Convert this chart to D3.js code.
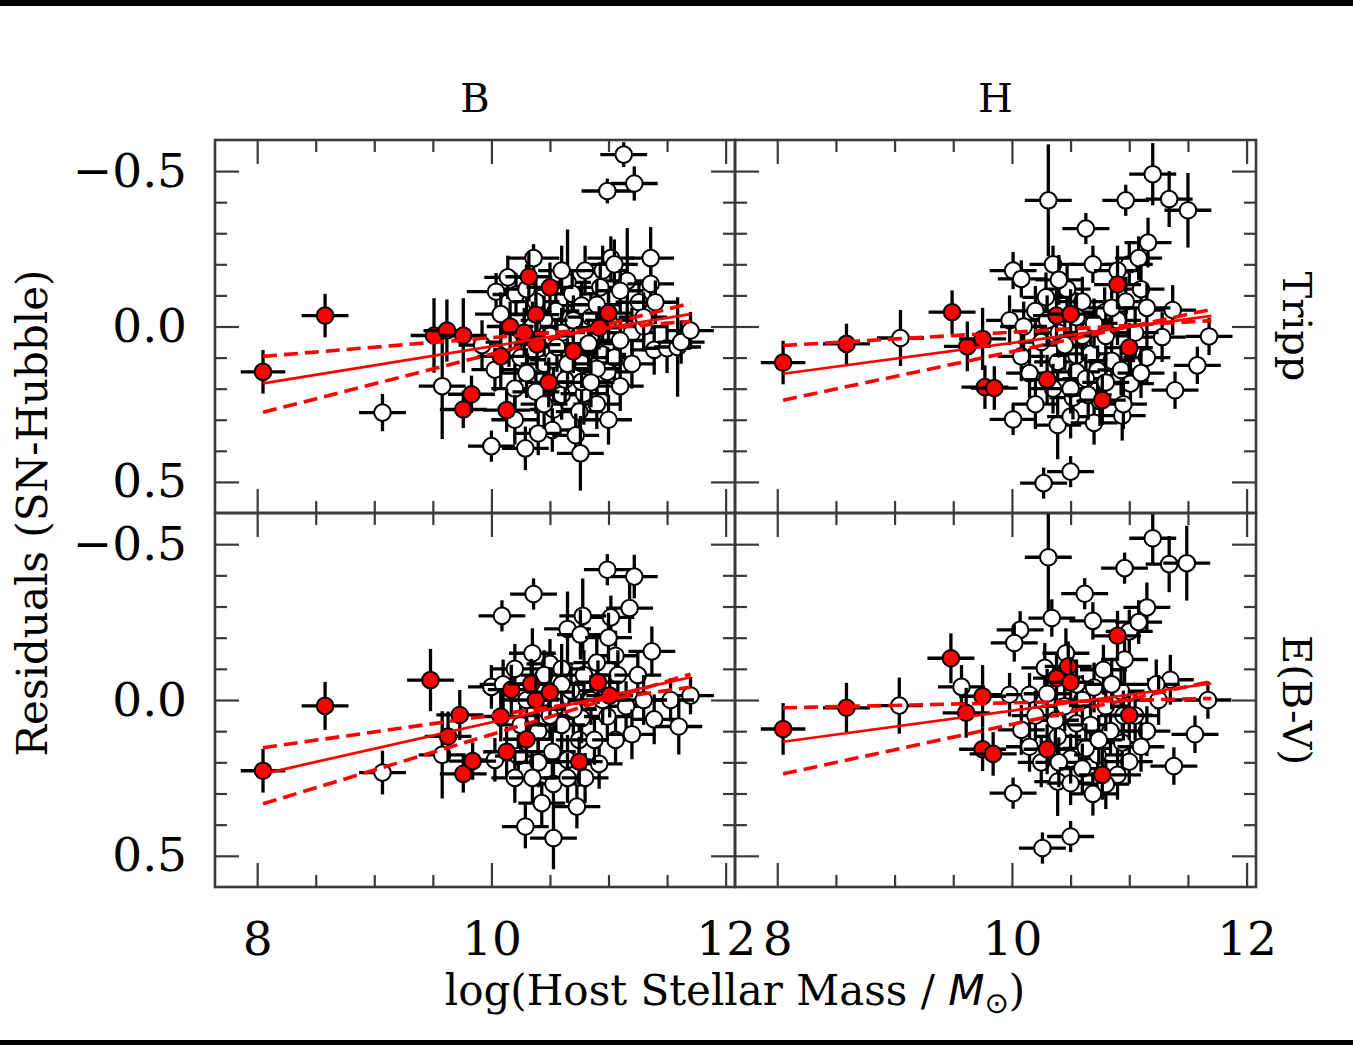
<!DOCTYPE html>
<html>
<head>
<meta charset="utf-8">
<script src="https://cdn.jsdelivr.net/npm/d3@7"></script>
<style>
  body { margin: 0; background: #fff; }
  svg { display: block; }
</style>
</head>
<body>
<svg id="chart" width="1353" height="1045"></svg>
<script>
// ---- Data: host stellar mass (log M/Msun) vs Hubble residual ----
// point rows: [logMass, residual, massErr, residualErr]
const columnTitles = ["B", "H"];
const rowTitles = ["Tripp", "E(B-V)"];
const massTicks = [8, 10, 12];
const residTicks = [-0.5, 0.0, 0.5];

const bTrippOpen = [
  [9.07, 0.277, 0.2, 0.06], [11.13, -0.553, 0.2, 0.04], [10.99, -0.436, 0.22, 0.04],
  [11.22, -0.46, 0.2, 0.055], [10.36, -0.22, 0.22, 0.045], [11.36, -0.22, 0.2, 0.1],
  [11.02, -0.22, 0.2, 0.07], [10.14, -0.158, 0.2, 0.07], [10.04, -0.112, 0.25, 0.06],
  [10.21, -0.103, 0.2, 0.07], [10.38, -0.08, 0.2, 0.07], [10.65, -0.142, 0.2, 0.17],
  [10.8, -0.18, 0.2, 0.08], [10.95, -0.18, 0.2, 0.08], [11.05, -0.2, 0.2, 0.08],
  [11.16, -0.147, 0.2, 0.17], [11.36, -0.137, 0.2, 0.06], [10.93, -0.126, 0.2, 0.07],
  [11.1, -0.115, 0.2, 0.07], [10.69, -0.105, 0.2, 0.07], [10.77, -0.067, 0.2, 0.07],
  [11.26, -0.078, 0.2, 0.07], [11.4, -0.078, 0.2, 0.07], [10.08, -0.04, 0.22, 0.07],
  [10.55, -0.05, 0.2, 0.08], [10.6, 0.02, 0.2, 0.08], [10.7, -0.02, 0.2, 0.08],
  [10.5, 0.03, 0.2, 0.08], [10.85, -0.03, 0.2, 0.08], [10.95, 0.09, 0.2, 0.08],
  [11.2, 0.02, 0.2, 0.08], [11.0, -0.02, 0.2, 0.08], [11.3, 0.0, 0.2, 0.08],
  [10.45, -0.02, 0.2, 0.08], [9.92, 0.06, 0.2, 0.08], [10.25, 0.1, 0.2, 0.08],
  [10.45, 0.12, 0.2, 0.08], [10.3, 0.15, 0.2, 0.08], [10.2, 0.2, 0.2, 0.08],
  [10.6, 0.22, 0.2, 0.08], [10.9, 0.25, 0.2, 0.08], [11.05, 0.1, 0.2, 0.08],
  [9.58, 0.192, 0.2, 0.17], [10.03, 0.139, 0.2, 0.07], [10.38, 0.21, 0.2, 0.07],
  [10.53, 0.267, 0.2, 0.07], [10.75, 0.274, 0.2, 0.08], [10.79, 0.216, 0.2, 0.1],
  [10.63, 0.171, 0.2, 0.08], [10.77, 0.178, 0.2, 0.07], [10.99, 0.146, 0.2, 0.08],
  [11.1, 0.192, 0.2, 0.08], [10.53, 0.107, 0.2, 0.08], [10.77, 0.118, 0.2, 0.08],
  [10.9, 0.136, 0.2, 0.08], [10.56, 0.066, 0.2, 0.08], [10.83, 0.055, 0.2, 0.08],
  [11.1, 0.045, 0.2, 0.08], [11.39, 0.075, 0.2, 0.08], [11.5, 0.07, 0.2, 0.08],
  [11.59, 0.066, 0.2, 0.16], [11.62, 0.05, 0.2, 0.07], [11.7, 0.013, 0.2, 0.06],
  [10.52, 0.333, 0.2, 0.07], [10.4, 0.344, 0.2, 0.07], [10.72, 0.35, 0.2, 0.07],
  [10.76, 0.408, 0.2, 0.12], [10.29, 0.392, 0.2, 0.07], [10.0, 0.385, 0.2, 0.05],
  [10.15, 0.05, 0.2, 0.08], [10.35, 0.0, 0.2, 0.08], [10.65, 0.12, 0.2, 0.08],
  [10.85, 0.18, 0.2, 0.08], [11.2, 0.12, 0.2, 0.08], [11.3, -0.03, 0.2, 0.08],
  [10.9, -0.07, 0.2, 0.08], [10.3, -0.12, 0.2, 0.08], [10.6, -0.18, 0.2, 0.08],
  [10.45, 0.25, 0.2, 0.08], [11.0, 0.3, 0.2, 0.08], [10.2, 0.3, 0.2, 0.08]
];
const bTrippFilled = [
  [8.05, 0.146, 0.19, 0.07], [8.58, -0.035, 0.2, 0.07], [9.51, 0.029, 0.2, 0.12],
  [9.62, 0.013, 0.2, 0.1], [9.76, 0.029, 0.2, 0.12], [9.76, 0.267, 0.2, 0.06],
  [9.83, 0.218, 0.2, 0.06], [10.08, 0.096, 0.2, 0.1], [10.13, 0.269, 0.2, 0.07],
  [10.16, 0.0, 0.2, 0.08], [10.28, 0.02, 0.2, 0.08], [10.32, -0.16, 0.2, 0.08],
  [10.38, -0.038, 0.2, 0.08], [10.39, 0.058, 0.2, 0.08], [10.49, 0.18, 0.2, 0.08],
  [10.5, -0.126, 0.2, 0.08], [10.7, 0.08, 0.2, 0.07], [10.92, 0.004, 0.2, 0.07],
  [11.0, -0.043, 0.2, 0.07]
];

const hTrippOpen = [
  [9.05, 0.037, 0.2, 0.09], [10.31, -0.406, 0.2, 0.18], [11.2, -0.49, 0.2, 0.1],
  [10.97, -0.406, 0.2, 0.05], [11.34, -0.41, 0.2, 0.09], [11.5, -0.374, 0.2, 0.12],
  [10.63, -0.315, 0.2, 0.05], [11.16, -0.27, 0.2, 0.08], [10.35, -0.2, 0.2, 0.06],
  [10.69, -0.2, 0.2, 0.06], [11.0, -0.2, 0.2, 0.07], [11.08, -0.22, 0.2, 0.07],
  [10.01, -0.18, 0.2, 0.06], [10.08, -0.153, 0.2, 0.06], [10.47, -0.12, 0.2, 0.08],
  [10.29, -0.094, 0.2, 0.08], [11.1, -0.12, 0.2, 0.08], [10.79, -0.046, 0.2, 0.08],
  [11.37, -0.053, 0.2, 0.08], [10.97, -0.08, 0.2, 0.08], [11.15, -0.06, 0.2, 0.08],
  [10.6, -0.08, 0.2, 0.08], [10.2, -0.05, 0.2, 0.08], [9.98, -0.02, 0.2, 0.08],
  [10.9, -0.02, 0.2, 0.08], [11.68, 0.032, 0.2, 0.06], [11.28, 0.034, 0.2, 0.08],
  [11.58, 0.125, 0.2, 0.06], [11.39, 0.205, 0.2, 0.06], [10.01, 0.299, 0.2, 0.05],
  [10.39, 0.317, 0.2, 0.11], [10.5, 0.29, 0.2, 0.07], [10.7, 0.31, 0.2, 0.07],
  [10.94, 0.287, 0.2, 0.08], [10.52, 0.229, 0.2, 0.07], [11.01, 0.184, 0.2, 0.07],
  [10.5, 0.467, 0.2, 0.05], [10.27, 0.504, 0.2, 0.05], [10.39, 0.114, 0.2, 0.08],
  [10.55, 0.093, 0.2, 0.08], [10.67, 0.088, 0.2, 0.08], [10.73, 0.141, 0.2, 0.08],
  [10.85, 0.11, 0.2, 0.08], [10.55, 0.146, 0.2, 0.08], [10.08, 0.096, 0.2, 0.08],
  [10.93, 0.14, 0.2, 0.08], [10.63, 0.168, 0.2, 0.08], [10.75, 0.24, 0.2, 0.08],
  [10.95, 0.25, 0.2, 0.08], [10.35, 0.2, 0.2, 0.08], [10.4, 0.02, 0.2, 0.08],
  [10.6, 0.03, 0.2, 0.08], [10.8, 0.03, 0.2, 0.08], [10.7, -0.01, 0.2, 0.08],
  [11.05, 0.02, 0.2, 0.08], [10.25, 0.05, 0.2, 0.08], [10.15, 0.15, 0.2, 0.08],
  [11.15, 0.1, 0.2, 0.08], [10.45, 0.06, 0.2, 0.08], [10.3, -0.02, 0.2, 0.08],
  [10.55, -0.03, 0.2, 0.08], [10.85, -0.06, 0.2, 0.08], [10.5, 0.2, 0.2, 0.08],
  [10.8, 0.18, 0.2, 0.08], [10.2, 0.25, 0.2, 0.08], [10.65, 0.22, 0.2, 0.08],
  [11.1, 0.15, 0.2, 0.08], [10.4, -0.15, 0.2, 0.08], [10.9, -0.18, 0.2, 0.08],
  [10.1, 0.0, 0.2, 0.08]
];
const hTrippFilled = [
  [8.05, 0.116, 0.19, 0.07], [8.59, 0.056, 0.2, 0.065], [9.49, -0.046, 0.2, 0.07],
  [9.62, 0.064, 0.2, 0.08], [9.75, 0.04, 0.2, 0.1], [9.77, 0.195, 0.2, 0.07],
  [9.85, 0.198, 0.2, 0.07], [10.3, 0.171, 0.2, 0.08], [10.38, -0.035, 0.2, 0.08],
  [10.5, -0.04, 0.2, 0.08], [10.9, -0.135, 0.2, 0.08], [11.0, 0.068, 0.2, 0.08],
  [10.77, 0.237, 0.2, 0.08]
];

const bEbvOpen = [
  [9.07, 0.233, 0.2, 0.07], [10.09, -0.27, 0.2, 0.05], [10.36, -0.34, 0.2, 0.05],
  [10.99, -0.418, 0.2, 0.05], [11.22, -0.396, 0.2, 0.07], [11.18, -0.295, 0.2, 0.08],
  [11.02, -0.265, 0.2, 0.07], [10.78, -0.27, 0.2, 0.12], [10.65, -0.228, 0.2, 0.12],
  [10.76, -0.21, 0.2, 0.08], [11.06, -0.142, 0.2, 0.08], [11.37, -0.156, 0.2, 0.08],
  [10.5, -0.116, 0.2, 0.08], [10.0, -0.042, 0.2, 0.07], [10.68, -0.03, 0.2, 0.08],
  [10.79, -0.08, 0.2, 0.08], [11.08, -0.08, 0.2, 0.08], [11.25, -0.08, 0.2, 0.08],
  [11.7, -0.014, 0.2, 0.06], [11.53, 0.0, 0.2, 0.07], [10.6, -0.1, 0.2, 0.08],
  [10.9, -0.12, 0.2, 0.08], [10.45, -0.08, 0.2, 0.08], [9.58, 0.176, 0.2, 0.14],
  [10.03, 0.192, 0.2, 0.07], [10.23, 0.18, 0.2, 0.07], [10.52, 0.166, 0.2, 0.08],
  [10.65, 0.192, 0.2, 0.08], [10.92, 0.205, 0.2, 0.08], [10.75, 0.128, 0.2, 0.08],
  [10.88, 0.128, 0.2, 0.08], [11.06, 0.128, 0.2, 0.08], [10.77, 0.059, 0.2, 0.08],
  [10.99, 0.053, 0.2, 0.08], [11.39, 0.062, 0.2, 0.08], [11.6, 0.085, 0.2, 0.09],
  [10.53, 0.269, 0.2, 0.08], [10.43, 0.331, 0.2, 0.07], [10.73, 0.342, 0.2, 0.07],
  [10.29, 0.406, 0.2, 0.07], [10.53, 0.443, 0.2, 0.1], [10.4, 0.1, 0.2, 0.08],
  [10.6, 0.08, 0.2, 0.08], [10.55, 0.02, 0.2, 0.08], [10.85, 0.0, 0.2, 0.08],
  [11.15, 0.02, 0.2, 0.08], [10.25, 0.08, 0.2, 0.08], [10.65, 0.25, 0.2, 0.08],
  [10.2, 0.25, 0.2, 0.08], [11.2, 0.11, 0.2, 0.08], [10.35, -0.15, 0.2, 0.08],
  [10.2, -0.1, 0.2, 0.08], [10.3, 0.0, 0.2, 0.08], [10.5, 0.05, 0.2, 0.08],
  [10.7, 0.03, 0.2, 0.08], [10.95, 0.0, 0.2, 0.08], [10.4, 0.2, 0.2, 0.08],
  [10.8, 0.25, 0.2, 0.08], [11.3, 0.0, 0.2, 0.08], [10.6, -0.05, 0.2, 0.08],
  [10.35, 0.25, 0.2, 0.08], [10.1, -0.05, 0.2, 0.08], [11.0, -0.2, 0.2, 0.08]
];
const bEbvFilled = [
  [8.05, 0.227, 0.19, 0.07], [8.58, 0.019, 0.2, 0.077], [9.48, -0.064, 0.2, 0.1],
  [9.63, 0.117, 0.2, 0.08], [9.73, 0.048, 0.2, 0.08], [9.76, 0.237, 0.2, 0.06],
  [9.84, 0.196, 0.2, 0.06], [10.08, 0.053, 0.2, 0.08], [10.13, 0.166, 0.2, 0.08],
  [10.17, -0.033, 0.2, 0.08], [10.3, 0.126, 0.2, 0.08], [10.34, -0.052, 0.2, 0.08],
  [10.38, 0.0, 0.2, 0.08], [10.5, -0.025, 0.2, 0.08], [10.75, 0.198, 0.2, 0.08],
  [10.91, -0.057, 0.2, 0.07], [11.01, -0.014, 0.2, 0.07]
];

const hEbvOpen = [
  [9.04, 0.018, 0.2, 0.09], [10.31, -0.458, 0.2, 0.18], [11.2, -0.519, 0.2, 0.08],
  [10.96, -0.423, 0.2, 0.05], [11.34, -0.436, 0.2, 0.09], [11.49, -0.439, 0.2, 0.12],
  [10.62, -0.341, 0.2, 0.05], [11.15, -0.297, 0.2, 0.08], [10.34, -0.263, 0.2, 0.06],
  [10.69, -0.254, 0.2, 0.06], [10.07, -0.225, 0.2, 0.06], [10.02, -0.183, 0.2, 0.06],
  [11.0, -0.22, 0.2, 0.07], [11.08, -0.25, 0.2, 0.07], [10.46, -0.15, 0.2, 0.08],
  [10.28, -0.103, 0.2, 0.08], [10.78, -0.097, 0.2, 0.08], [10.96, -0.13, 0.2, 0.08],
  [11.35, -0.065, 0.2, 0.08], [9.57, -0.042, 0.2, 0.07], [9.98, -0.017, 0.2, 0.07],
  [10.15, -0.017, 0.2, 0.07], [10.93, -0.028, 0.2, 0.08], [11.23, -0.05, 0.2, 0.08],
  [11.67, 0.0, 0.2, 0.06], [11.56, 0.11, 0.2, 0.06], [11.38, 0.212, 0.2, 0.06],
  [10.01, 0.299, 0.2, 0.05], [10.39, 0.262, 0.2, 0.11], [10.5, 0.267, 0.2, 0.07],
  [10.69, 0.301, 0.2, 0.07], [11.0, 0.198, 0.2, 0.07], [10.5, 0.188, 0.2, 0.08],
  [10.73, 0.176, 0.2, 0.08], [10.5, 0.438, 0.2, 0.05], [10.26, 0.475, 0.2, 0.05],
  [10.08, 0.096, 0.2, 0.08], [10.39, 0.117, 0.2, 0.08], [10.55, 0.075, 0.2, 0.08],
  [10.67, 0.08, 0.2, 0.08], [10.84, 0.1, 0.2, 0.08], [10.94, 0.137, 0.2, 0.08],
  [10.63, 0.155, 0.2, 0.08], [10.74, 0.128, 0.2, 0.08], [10.37, 0.065, 0.2, 0.08],
  [10.6, 0.0, 0.2, 0.08], [10.8, 0.02, 0.2, 0.08], [10.7, -0.04, 0.2, 0.08],
  [10.45, 0.02, 0.2, 0.08], [10.2, 0.05, 0.2, 0.08], [11.05, 0.05, 0.2, 0.08],
  [10.25, 0.2, 0.2, 0.08], [10.9, 0.24, 0.2, 0.08], [11.15, 0.1, 0.2, 0.08],
  [10.3, -0.02, 0.2, 0.08], [10.55, -0.05, 0.2, 0.08], [10.85, -0.05, 0.2, 0.08],
  [10.4, 0.2, 0.2, 0.08], [10.6, 0.22, 0.2, 0.08], [10.8, 0.27, 0.2, 0.08],
  [11.1, 0.15, 0.2, 0.08], [10.15, 0.15, 0.2, 0.08], [10.95, 0.05, 0.2, 0.08],
  [11.25, 0.0, 0.2, 0.08]
];
const hEbvFilled = [
  [8.05, 0.093, 0.19, 0.083], [8.59, 0.025, 0.2, 0.08], [9.48, -0.134, 0.2, 0.08],
  [9.61, 0.041, 0.2, 0.08], [9.75, -0.012, 0.2, 0.1], [9.75, 0.158, 0.2, 0.07],
  [9.84, 0.173, 0.2, 0.07], [10.3, 0.158, 0.2, 0.08], [10.38, -0.07, 0.2, 0.08],
  [10.48, -0.108, 0.2, 0.08], [10.5, -0.057, 0.2, 0.08], [10.9, -0.206, 0.2, 0.08],
  [11.0, 0.049, 0.2, 0.08], [10.77, 0.24, 0.2, 0.08]
];

// Linear fits (solid) and slope-uncertainty envelopes (dashed): [logMass, residual]
const bTrippFit = [[8.05, 0.183], [11.7, -0.04]];
const bTrippEnvA = [[8.05, 0.096], [11.7, -0.017]];
const bTrippEnvB = [[8.05, 0.276], [11.7, -0.075]];
const hTrippFit = [[8.05, 0.152], [11.7, -0.034]];
const hTrippEnvA = [[8.05, 0.061], [11.7, -0.019]];
const hTrippEnvB = [[8.05, 0.237], [11.7, -0.055]];
const bEbvFit = [[8.05, 0.237], [11.7, -0.073]];
const bEbvEnvA = [[8.05, 0.153], [11.7, -0.041]];
const bEbvEnvB = [[8.05, 0.333], [11.7, -0.083]];
const hEbvFit = [[8.05, 0.134], [11.7, -0.053]];
const hEbvEnvA = [[8.05, 0.025], [11.7, -0.005]];
const hEbvEnvB = [[8.05, 0.237], [11.7, -0.06]];

// ---- Layout ----
const W = 1353, H = 1045;
const colRange = [[215, 735], [735, 1256]];
const rowRange = [[140, 513], [513, 887]];
const massDomain = [7.64, 12.08];
const residDomain = [-0.6, 0.6];
const serif = "'DejaVu Serif', serif";
const frameColor = "#3a3a3a";

const svg = d3.select("#chart");
svg.append("rect").attr("width", W).attr("height", H).attr("fill", "#fff");
svg.append("rect").attr("x", 0).attr("y", 0).attr("width", W).attr("height", 6).attr("fill", "#000");
svg.append("rect").attr("x", 0).attr("y", 1040).attr("width", W).attr("height", 5).attr("fill", "#000");

const panels = [
  { col: 0, row: 0, open: bTrippOpen, filled: bTrippFilled, fit: bTrippFit, envA: bTrippEnvA, envB: bTrippEnvB },
  { col: 1, row: 0, open: hTrippOpen, filled: hTrippFilled, fit: hTrippFit, envA: hTrippEnvA, envB: hTrippEnvB },
  { col: 0, row: 1, open: bEbvOpen, filled: bEbvFilled, fit: bEbvFit, envA: bEbvEnvA, envB: bEbvEnvB },
  { col: 1, row: 1, open: hEbvOpen, filled: hEbvFilled, fit: hEbvFit, envA: hEbvEnvA, envB: hEbvEnvB }
];

const minorMass = d3.range(7.5, 12.01, 0.5).filter(v => v > massDomain[0] && !massTicks.includes(v));
const minorResid = d3.range(-0.6, 0.61, 0.1).map(v => +v.toFixed(1))
  .filter(v => v > residDomain[0] && v < residDomain[1] && !residTicks.includes(v));

panels.forEach(p => {
  const x = d3.scaleLinear().domain(massDomain).range(colRange[p.col]);
  const y = d3.scaleLinear().domain(residDomain).range(rowRange[p.row]);
  const [x0, x1] = colRange[p.col];
  const [y0, y1] = rowRange[p.row];
  const g = svg.append("g");

  const clipId = `clip-${p.col}-${p.row}`;
  svg.append("clipPath").attr("id", clipId)
    .append("rect").attr("x", x0).attr("y", y0).attr("width", x1 - x0).attr("height", y1 - y0);
  const plot = g.append("g").attr("clip-path", `url(#${clipId})`);

  const drawPoint = (d, fill) => {
    const cx = x(d[0]), cy = y(d[1]);
    plot.append("line")
      .attr("x1", x(d[0] - d[2])).attr("x2", x(d[0] + d[2]))
      .attr("y1", cy).attr("y2", cy)
      .attr("stroke", "#000").attr("stroke-width", 3.3);
    plot.append("line")
      .attr("x1", cx).attr("x2", cx)
      .attr("y1", y(d[1] - d[3])).attr("y2", y(d[1] + d[3]))
      .attr("stroke", "#000").attr("stroke-width", 3.3);
    plot.append("circle")
      .attr("cx", cx).attr("cy", cy).attr("r", 8.3)
      .attr("fill", fill).attr("stroke", "#000").attr("stroke-width", 2);
  };
  p.open.forEach(d => drawPoint(d, "#fff"));
  p.filled.forEach(d => drawPoint(d, "#ff0000"));

  const line = d3.line().x(d => x(d[0])).y(d => y(d[1]));
  plot.append("path").datum(p.fit).attr("d", line)
    .attr("fill", "none").attr("stroke", "#ff0000").attr("stroke-width", 2.7);
  [p.envA, p.envB].forEach(env => {
    plot.append("path").datum(env).attr("d", line)
      .attr("fill", "none").attr("stroke", "#ff0000").attr("stroke-width", 3.6)
      .attr("stroke-dasharray", "14,7");
  });

  // inward ticks on all four sides
  const styleTicks = sel => {
    sel.select(".domain").remove();
    sel.selectAll(".tick line").attr("stroke", frameColor).attr("stroke-width", 2.2);
  };
  const majorLen = 24, minorLen = 12;
  g.append("g").attr("transform", `translate(0,${y1})`)
    .call(d3.axisBottom(x).tickValues(massTicks).tickSize(-majorLen).tickFormat("")).call(styleTicks);
  g.append("g").attr("transform", `translate(0,${y1})`)
    .call(d3.axisBottom(x).tickValues(minorMass).tickSize(-minorLen).tickFormat("")).call(styleTicks);
  g.append("g").attr("transform", `translate(0,${y0})`)
    .call(d3.axisTop(x).tickValues(massTicks).tickSize(-majorLen).tickFormat("")).call(styleTicks);
  g.append("g").attr("transform", `translate(0,${y0})`)
    .call(d3.axisTop(x).tickValues(minorMass).tickSize(-minorLen).tickFormat("")).call(styleTicks);
  g.append("g").attr("transform", `translate(${x0},0)`)
    .call(d3.axisLeft(y).tickValues(residTicks).tickSize(-majorLen).tickFormat("")).call(styleTicks);
  g.append("g").attr("transform", `translate(${x0},0)`)
    .call(d3.axisLeft(y).tickValues(minorResid).tickSize(-minorLen).tickFormat("")).call(styleTicks);
  g.append("g").attr("transform", `translate(${x1},0)`)
    .call(d3.axisRight(y).tickValues(residTicks).tickSize(-majorLen).tickFormat("")).call(styleTicks);
  g.append("g").attr("transform", `translate(${x1},0)`)
    .call(d3.axisRight(y).tickValues(minorResid).tickSize(-minorLen).tickFormat("")).call(styleTicks);

  // frame
  g.append("rect").attr("x", x0).attr("y", y0).attr("width", x1 - x0).attr("height", y1 - y0)
    .attr("fill", "none").attr("stroke", frameColor).attr("stroke-width", 2.6);

  // tick labels
  if (p.row === 1) {
    const ax = g.append("g").attr("transform", `translate(0,${y1})`)
      .call(d3.axisBottom(x).tickValues(massTicks).tickSize(0).tickPadding(35).tickFormat(d3.format("d")));
    ax.select(".domain").remove();
    ax.selectAll("text").attr("font-family", serif).attr("font-size", 47).attr("fill", "#000");
  }
  if (p.col === 0) {
    const ay = g.append("g").attr("transform", `translate(${x0},0)`)
      .call(d3.axisLeft(y).tickValues(residTicks).tickSize(0).tickPadding(28).tickFormat(d3.format(".1f")));
    ay.select(".domain").remove();
    ay.selectAll("text").attr("font-family", serif).attr("font-size", 47).attr("fill", "#000");
  }
  if (p.row === 0) {
    svg.append("text").attr("x", (x0 + x1) / 2).attr("y", 112)
      .attr("text-anchor", "middle").attr("font-family", serif).attr("font-size", 40)
      .text(columnTitles[p.col]);
  }
  if (p.col === 1) {
    svg.append("text")
      .attr("transform", `translate(1283,${(y0 + y1) / 2}) rotate(90)`)
      .attr("text-anchor", "middle").attr("font-family", serif).attr("font-size", 40)
      .text(rowTitles[p.row]);
  }
});

// axis titles
svg.append("text")
  .attr("transform", "translate(47,513) rotate(-90)")
  .attr("text-anchor", "middle").attr("font-family", serif).attr("font-size", 42)
  .text("Residuals (SN-Hubble)");

const xl = svg.append("text").attr("x", 735).attr("y", 1005)
  .attr("text-anchor", "middle").attr("font-family", serif).attr("font-size", 42);
xl.append("tspan").text("log(Host Stellar Mass / ");
xl.append("tspan").attr("font-family", "'DejaVu Sans', sans-serif").attr("font-style", "italic").text("M");
xl.append("tspan").attr("font-family", "'DejaVu Sans', sans-serif").attr("font-size", 29).attr("dy", 8).text("\u2299");
xl.append("tspan").attr("dy", -8).text(")");
</script>
</body>
</html>
